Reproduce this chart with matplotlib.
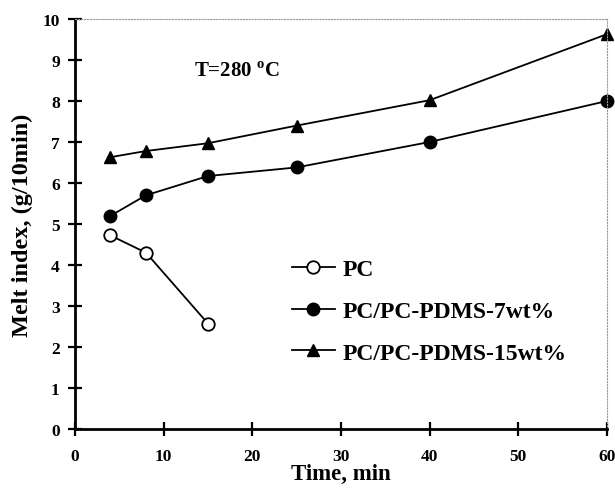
import matplotlib
matplotlib.use("Agg")
import matplotlib.pyplot as plt

# data
time_pc = [4, 8, 15]
mi_pc = [4.72, 4.30, 2.57]

time_blend = [4, 8, 15, 25, 40, 60]
mi_7wt = [5.20, 5.70, 6.17, 6.38, 7.00, 8.00]
mi_15wt = [6.63, 6.78, 6.97, 7.40, 8.02, 9.63]

xticks = [0, 10, 20, 30, 40, 50, 60]
yticks = list(range(0, 11))

plt.rcParams['font.family'] = ['Liberation Serif', 'DejaVu Serif']
plt.rcParams['font.weight'] = 'bold'

fig = plt.figure(figsize=(6.15, 4.89), dpi=100)
ax = fig.add_axes([0.122, 0.1207, 0.865, 0.8384])

ax.plot(time_pc, mi_pc, color='black', lw=1.3, marker='o', ms=9,
        mfc='white', mec='black', mew=1.3, label='PC')
ax.plot(time_blend, mi_7wt, color='black', lw=1.3, marker='o', ms=9,
        mfc='black', mec='black', label='PC/PC-PDMS-7wt%', clip_on=False)
ax.plot(time_blend, mi_15wt, color='black', lw=1.3, marker='^', ms=9,
        mfc='black', mec='black', label='PC/PC-PDMS-15wt%', clip_on=False)

ax.set_xlim(0, 60)
ax.set_ylim(0, 10)
ax.set_xticks(xticks)
ax.set_yticks(yticks)
ax.tick_params(direction='inout', length=10, width=1.6, labelsize=12.5, pad=6)
ax.tick_params(axis='x', pad=9)

for s in ['left', 'bottom']:
    ax.spines[s].set_linewidth(2)
for s in ['top', 'right']:
    ax.spines[s].set_color('#999999')
    ax.spines[s].set_linewidth(0.8)
    ax.spines[s].set_linestyle(':')

ax.set_xlabel('Time, min', fontsize=16.5, fontweight='bold', labelpad=-1)
ax.set_ylabel('Melt index, (g/10min)', fontsize=17.5, fontweight='bold', labelpad=7)

ax.text(13.4, 8.73, 'T=280 $^{\\mathregular{o}}$C', fontsize=15, fontweight='bold',
        va='center', ha='left')

ax.legend(loc='upper left', bbox_to_anchor=(0.408, 0.415), frameon=False,
          fontsize=17, handlelength=1.8, handletextpad=0.35, labelspacing=0.85,
          borderaxespad=0, borderpad=0)

fig.savefig('out.png', dpi=100)
